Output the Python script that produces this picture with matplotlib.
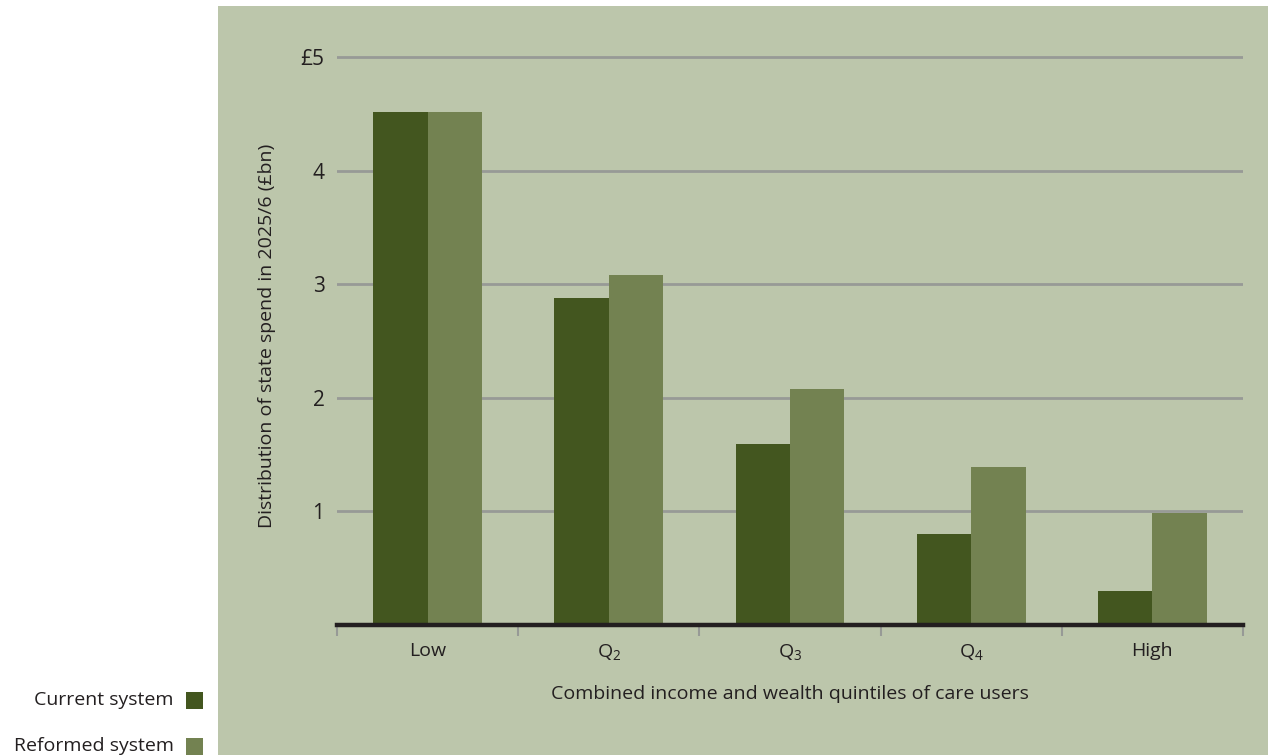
import matplotlib
matplotlib.use("Agg")
import matplotlib.pyplot as plt
from matplotlib.patches import Rectangle
import numpy as np

# State spend by combined income and wealth quintile (£bn, 2025/6)
quintiles = ["Low", "Q$_2$", "Q$_3$", "Q$_4$", "High"]
current_system = [4.52, 2.88, 1.59, 0.80, 0.30]
reformed_system = [4.52, 3.08, 2.08, 1.39, 0.99]

panel_bg = "#bcc6ab"
current_col = "#43561f"
reformed_col = "#738251"
text_col = "#231f20"
grid_col = "#979a96"

plt.rcParams["font.family"] = ["Open Sans", "DejaVu Sans"]
plt.rcParams["mathtext.default"] = "regular"

W, H = 1268, 755
fig = plt.figure(figsize=(W / 100, H / 100), dpi=100)
fig.patch.set_facecolor("white")

# green panel behind the chart
fig.patches.append(Rectangle((218 / W, 0), (W - 218) / W, (H - 6) / H,
                             transform=fig.transFigure, facecolor=panel_bg,
                             edgecolor="none", zorder=-5))

ymax = 5.1
px_per_unit = (625 - 57) / 5.0
top_px = 625 - ymax * px_per_unit
ax = fig.add_axes([337 / W, 1 - 625 / H, (1243 - 337) / W, (625 - top_px) / H])
ax.set_zorder(2)
ax.set_facecolor("none")
ax.set_xlim(0, len(quintiles))
ax.set_ylim(0, ymax)

x = np.arange(len(quintiles)) + 0.5
w = 0.3
ax.bar(x - w / 2, current_system, w, color=current_col, zorder=3)
ax.bar(x + w / 2, reformed_system, w, color=reformed_col, zorder=3)

for v in range(1, 6):
    ax.axhline(v, color=grid_col, lw=2, zorder=1)

for s in ["top", "right", "left"]:
    ax.spines[s].set_visible(False)
ax.spines["bottom"].set_color(text_col)
ax.spines["bottom"].set_linewidth(3.2)
ax.spines["bottom"].set_zorder(4)

ax.set_yticks([1, 2, 3, 4, 5])
ax.set_yticklabels(["1", "2", "3", "4", "£5"])
ax.tick_params(axis="y", length=0, pad=9, labelsize=15, labelcolor=text_col)

ax.set_xticks(np.arange(len(quintiles) + 1))
ax.set_xticklabels([])
ax.set_xticks(x, minor=True)
ax.set_xticklabels(quintiles, minor=True)
ax.tick_params(axis="x", which="major", direction="out", length=8,
               width=1.5, color=grid_col)
ax.tick_params(axis="x", which="minor", length=0, pad=12, labelsize=14,
               labelcolor=text_col)

fig.text(790 / W, 1 - 694 / H, "Combined income and wealth quintiles of care users",
         ha="center", va="center", fontsize=14, color=text_col)
fig.text(267 / W, 1 - 336 / H, "Distribution of state spend in 2025/6 (£bn)",
         ha="center", va="center", rotation=90, fontsize=14, color=text_col)

# legend to the left of the panel
for label, col, yc in [("Current system", current_col, 700),
                       ("Reformed system", reformed_col, 746)]:
    fig.text(174 / W, 1 - yc / H, label, ha="right", va="center",
             fontsize=14, color=text_col)
    fig.patches.append(Rectangle((186 / W, 1 - (yc + 8.5) / H), 17 / W, 17 / H,
                                 transform=fig.transFigure, facecolor=col,
                                 edgecolor="none"))

fig.savefig("out.png", dpi=100)
